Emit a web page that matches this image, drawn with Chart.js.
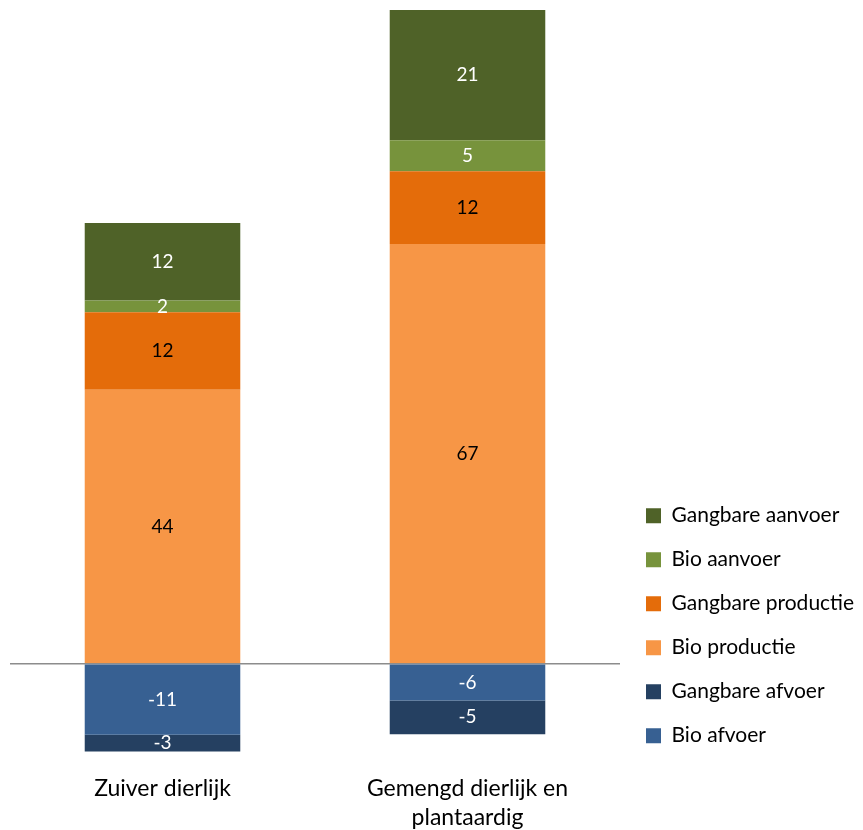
<!DOCTYPE html>
<html>
<head>
<meta charset="utf-8">
<script src="https://cdn.jsdelivr.net/npm/chart.js"></script>
<style>
  html, body { margin: 0; padding: 0; background: #fff; }
  #wrap { width: 863px; height: 830px; }
</style>
</head>
<body>
<div id="wrap"><canvas id="chart"></canvas></div>
<script>
// categories (x axis)
const categories = ['Zuiver dierlijk', ['Gemengd dierlijk en', 'plantaardig']];

// series values, one array per stack segment
const bioAfvoer = [-11.4, -5.9];
const gangbareAfvoer = [-2.7, -5.4];
const bioProductie = [44.0, 67.4];
const gangbareProductie = [12.45, 11.7];
const bioAanvoer = [1.9, 5.0];
const gangbareAanvoer = [12.45, 20.9];

const FONT = 'Lato, "Open Sans", sans-serif';

// draws the rounded value in the middle of every bar segment
const segmentLabels = {
  id: 'segmentLabels',
  afterDatasetsDraw(chart) {
    const ctx = chart.ctx;
    ctx.save();
    ctx.font = '19px ' + FONT;
    ctx.textAlign = 'center';
    ctx.textBaseline = 'middle';
    chart.data.datasets.forEach((ds, i) => {
      const meta = chart.getDatasetMeta(i);
      meta.data.forEach((bar, j) => {
        ctx.fillStyle = ds.labelColor;
        ctx.fillText(Math.round(ds.data[j]), bar.x, (bar.y + bar.base) / 2);
      });
    });
    ctx.restore();
  }
};

// keep the legend at a fixed width so the plot ends where the original does
const legendWidth = {
  id: 'legendWidth',
  beforeLayout(chart) {
    const lg = chart.legend;
    if (lg && !lg._fixedWidth) {
      const fit = lg.fit;
      lg.fit = function () {
        fit.call(this);
        this.width = 243;
      };
      lg._fixedWidth = true;
    }
  },
  afterLayout(chart) {
    const lg = chart.legend;
    if (lg) {
      lg.left += 3; lg.right += 3;
      lg.top += 17; lg.bottom += 17;
    }
  }
};

const ctx = document.getElementById('chart').getContext('2d');
new Chart(ctx, {
  type: 'bar',
  data: {
    labels: categories,
    datasets: [
      { label: 'Bio afvoer', data: bioAfvoer, backgroundColor: '#376092', labelColor: '#fff' },
      { label: 'Gangbare afvoer', data: gangbareAfvoer, backgroundColor: '#254061', labelColor: '#fff' },
      { label: 'Bio productie', data: bioProductie, backgroundColor: '#F79646', labelColor: '#000' },
      { label: 'Gangbare productie', data: gangbareProductie, backgroundColor: '#E46C0A', labelColor: '#000' },
      { label: 'Bio aanvoer', data: bioAanvoer, backgroundColor: '#77933C', labelColor: '#fff' },
      { label: 'Gangbare aanvoer', data: gangbareAanvoer, backgroundColor: '#4F6228', labelColor: '#fff' }
    ]
  },
  options: {
    responsive: true,
    maintainAspectRatio: false,
    animation: false,
    layout: { padding: { top: 10, left: 10, right: 0, bottom: -24 } },
    datasets: {
      bar: { barPercentage: 0.51, categoryPercentage: 1.0, borderWidth: 0 }
    },
    scales: {
      x: {
        stacked: true,
        grid: { display: false, drawTicks: false },
        border: { display: false },
        ticks: {
          color: '#000',
          padding: 21,
          maxRotation: 0,
          font: { family: FONT, size: 23, lineHeight: 1.3 }
        }
      },
      y: {
        stacked: true,
        min: -14.2,
        max: 105,
        border: { display: false },
        grid: {
          drawTicks: false,
          lineWidth: 1.5,
          color: c => (c.tick && c.tick.value === 0 ? '#8c8c8c' : 'rgba(0,0,0,0)')
        },
        ticks: { display: false, stepSize: 10 },
        afterFit: scale => { scale.width = 0; }
      }
    },
    plugins: {
      tooltip: { enabled: false },
      legend: {
        position: 'right',
        align: 'end',
        fullSize: false,
        reverse: true,
        labels: {
          boxWidth: 15,
          boxHeight: 15,
          padding: 23,
          color: '#000',
          font: { family: FONT, size: 21 }
        }
      }
    }
  },
  plugins: [segmentLabels, legendWidth]
});
</script>
</body>
</html>
